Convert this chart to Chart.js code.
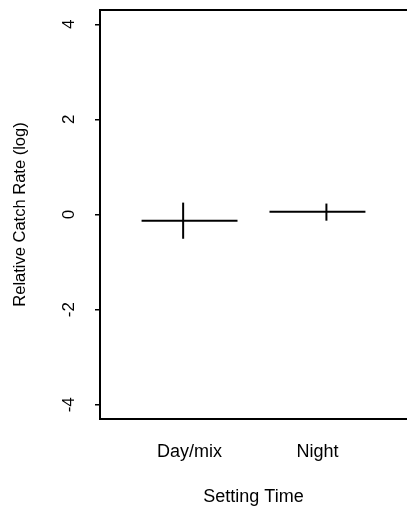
<!DOCTYPE html>
<html>
<head>
<meta charset="utf-8">
<script src="https://cdn.jsdelivr.net/npm/chart.js@4/dist/chart.umd.min.js"></script>
<style>
  html, body { margin: 0; padding: 0; background: #fff; }
  #wrap { width: 407px; height: 510px; }
</style>
</head>
<body>
<div id="wrap"><canvas id="c"></canvas></div>
<script>
// Relative catch rate (log scale) by setting time
const categories = ['Day/mix', 'Night'];
const categoryPositions = [1, 2];
const estimates = [-0.13, 0.06];
const intervalLow = [-0.51, -0.13];
const intervalHigh = [0.25, 0.23];
const intervalPositions = [0.95, 2.07];
const yTicks = [-4, -2, 0, 2, 4];
const halfWidth = 0.375;

const FONT = "'Liberation Sans', Arial, Helvetica, sans-serif";
const INK = '#000';

const datasets = [];
categories.forEach((name, i) => {
  datasets.push({
    label: name + ' estimate',
    data: [
      { x: categoryPositions[i] - halfWidth, y: estimates[i] },
      { x: categoryPositions[i] + halfWidth, y: estimates[i] }
    ]
  });
  datasets.push({
    label: name + ' interval',
    data: [
      { x: intervalPositions[i], y: intervalLow[i] },
      { x: intervalPositions[i], y: intervalHigh[i] }
    ]
  });
});
datasets.forEach(d => Object.assign(d, {
  showLine: true, borderColor: INK, backgroundColor: INK,
  borderWidth: 2, pointRadius: 0, fill: false, tension: 0
}));

// Value labels on the y axis are set vertically, reading upward
const yTickLabels = {
  id: 'yTickLabels',
  afterDraw(chart) {
    const ctx = chart.ctx, s = chart.scales.y;
    ctx.save();
    ctx.font = '17px ' + FONT;
    ctx.fillStyle = INK;
    ctx.textAlign = 'center';
    ctx.textBaseline = 'middle';
    yTicks.forEach(v => {
      const y = s.getPixelForValue(v);
      ctx.save();
      ctx.translate(s.right - 31, y);
      ctx.rotate(-Math.PI / 2);
      ctx.fillText(String(v), 0, 0);
      ctx.restore();
    });
    ctx.restore();
  }
};

new Chart(document.getElementById('c'), {
  type: 'scatter',
  data: { datasets },
  plugins: [yTickLabels],
  options: {
    responsive: true,
    maintainAspectRatio: false,
    animation: false,
    layout: { padding: 0 },
    plugins: { legend: { display: false }, tooltip: { enabled: false } },
    scales: {
      x: {
        type: 'linear', position: 'bottom', min: 0.3, max: 2.7,
        afterBuildTicks: s => { s.ticks = categoryPositions.map(v => ({ value: v })); },
        afterFit: s => { s.height = 91; },
        ticks: {
          autoSkip: false, maxRotation: 0, minRotation: 0, padding: 14,
          color: INK, font: { family: FONT, size: 18 },
          callback: v => categories[categoryPositions.indexOf(v)]
        },
        grid: { display: false },
        border: { display: true, color: INK, width: 2 },
        title: {
          display: true, text: 'Setting Time', color: INK,
          font: { family: FONT, size: 18 }, padding: { top: 0, bottom: 2 }
        }
      },
      top: {
        type: 'linear', position: 'top', axis: 'x', min: 0.3, max: 2.7,
        afterFit: s => { s.height = 10; },
        ticks: { display: false },
        grid: { display: false },
        border: { display: true, color: INK, width: 2 }
      },
      y: {
        type: 'linear', position: 'left', min: -4.3, max: 4.3,
        afterBuildTicks: s => { s.ticks = yTicks.map(v => ({ value: v })); },
        afterFit: s => { s.width = 100; },
        ticks: { display: false },
        grid: {
          display: true, drawOnChartArea: false, drawTicks: true,
          tickLength: 5, color: INK, lineWidth: 1.5
        },
        border: { display: true, color: INK, width: 2 },
        title: {
          display: true, text: 'Relative Catch Rate (log)', color: INK,
          font: { family: FONT, size: 16.5 }, padding: { top: 11, bottom: 0 }
        }
      }
    }
  }
});
</script>
</body>
</html>
